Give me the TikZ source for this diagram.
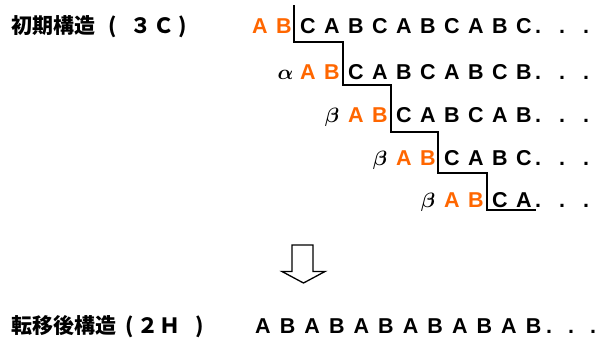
\documentclass[tikz,border=0pt]{standalone}
\usepackage{fontspec}
\newfontfamily\lsb{Liberation Sans}
\newfontfamily\cjk{Noto Sans CJK JP}
\definecolor{orng}{RGB}{255,102,0}
\tikzset{
  lt/.style={inner sep=0pt, anchor=base, font=\lsb\bfseries\fontsize{21.5}{21.5}\selectfont},
  blk/.style={lt, text=black},
  org/.style={lt, text=orng},
  grk/.style={inner sep=0pt, anchor=base, font=\boldmath\fontsize{20}{20}\selectfont},
  jp/.style={inner sep=0pt, anchor=base, font=\cjk\bfseries\fontsize{21}{21}\selectfont},
  stair/.style={draw=black, line width=1.8pt, line join=miter},
  bigarrow/.style={draw=black, line width=1.3pt, line join=miter}
}
\begin{document}
\begin{tikzpicture}[x=1pt,y=-1pt]
\useasboundingbox (0,0) rectangle (602,340);
% titles
\node[jp, anchor=base west] (t1) at (11,33.5) {初期構造};
\node[jp] (t1a) at (113,33.5) {(};
\node[jp] (t1b) at (141,33.5) {３};
\node[jp] (t1c) at (163.5,33.5) {Ｃ};
\node[jp] (t1d) at (182.5,33.5) {)};
\node[jp, anchor=base west] (t2) at (11,333.5) {転移後構造};
\node[jp] (t2a) at (129.5,333.5) {(};
\node[jp] (t2b) at (147.5,333.5) {２};
\node[jp] (t2c) at (170,333.5) {Ｈ};
\node[jp] (t2d) at (199.5,333.5) {)};
% row 1
\foreach \ch [count=\i from 0] in {A,B}
  \node[org] (r1k\i) at ({260+24*\i},33.5) {\ch};
\foreach \ch [count=\i from 2] in {C,A,B,C,A,B,C,A,B,C}
  \node[blk] (r1k\i) at ({260+24*\i},33.5) {\ch};
% row 2
\node[grk] (r2g) at (285.5,79.5) {$\alpha$};
\foreach \ch [count=\i from 2] in {A,B}
  \node[org] (r2k\i) at ({260+24*\i},79.5) {\ch};
\foreach \ch [count=\i from 4] in {C,A,B,C,A,B,C,B}
  \node[blk] (r2k\i) at ({260+24*\i},79.5) {\ch};
% row 3
\node[grk] (r3g) at (332,122) {$\beta$};
\foreach \ch [count=\i from 4] in {A,B}
  \node[org] (r3k\i) at ({260+24*\i},122) {\ch};
\foreach \ch [count=\i from 6] in {C,A,B,C,A,B}
  \node[blk] (r3k\i) at ({260+24*\i},122) {\ch};
% row 4
\node[grk] (r4g) at (380,165) {$\beta$};
\foreach \ch [count=\i from 6] in {A,B}
  \node[org] (r4k\i) at ({260+24*\i},165) {\ch};
\foreach \ch [count=\i from 8] in {C,A,B,C}
  \node[blk] (r4k\i) at ({260+24*\i},165) {\ch};
% row 5
\node[grk] (r5g) at (428,207) {$\beta$};
\foreach \ch [count=\i from 8] in {A,B}
  \node[org] (r5k\i) at ({260+24*\i},207) {\ch};
\foreach \ch [count=\i from 10] in {C,A}
  \node[blk] (r5k\i) at ({260+24*\i},207) {\ch};
% dots rows 1-5
\foreach \y [count=\r] in {33.5,79.5,122,165,207}
  \foreach \x [count=\d] in {538,562,586}
    \node[blk] (d\r-\d) at (\x,\y) {.};
% bottom row
\foreach \ch [count=\i from 0] in {A,B,A,B,A,B,A,B,A,B,A,B}
  \node[blk] (b\i) at ({263+24.6*\i},333.5) {\ch};
\foreach \x [count=\d] in {549,571,593}
  \node[blk] (bd\d) at (\x,333.5) {.};
% staircase
\coordinate (s0) at (294,5);
\coordinate (s1) at (294,42);
\coordinate (s2) at (343,42);
\coordinate (s3) at (343,85);
\coordinate (s4) at (391,85);
\coordinate (s5) at (391,132);
\coordinate (s6) at (438,132);
\coordinate (s7) at (438,173);
\coordinate (s8) at (487,173);
\coordinate (s9) at (487,210);
\coordinate (s10) at (536,210);
\draw[stair] (s0) -- (s1) -- (s2) -- (s3) -- (s4) -- (s5) -- (s6) -- (s7) -- (s8) -- (s9) -- (s10);
% hollow arrow
\draw[bigarrow] (292,245) -- (292,271.5) -- (282,271.5) -- (303.5,283) -- (325,271.5) -- (313,271.5) -- (313,245) -- cycle;
\end{tikzpicture}
\end{document}
